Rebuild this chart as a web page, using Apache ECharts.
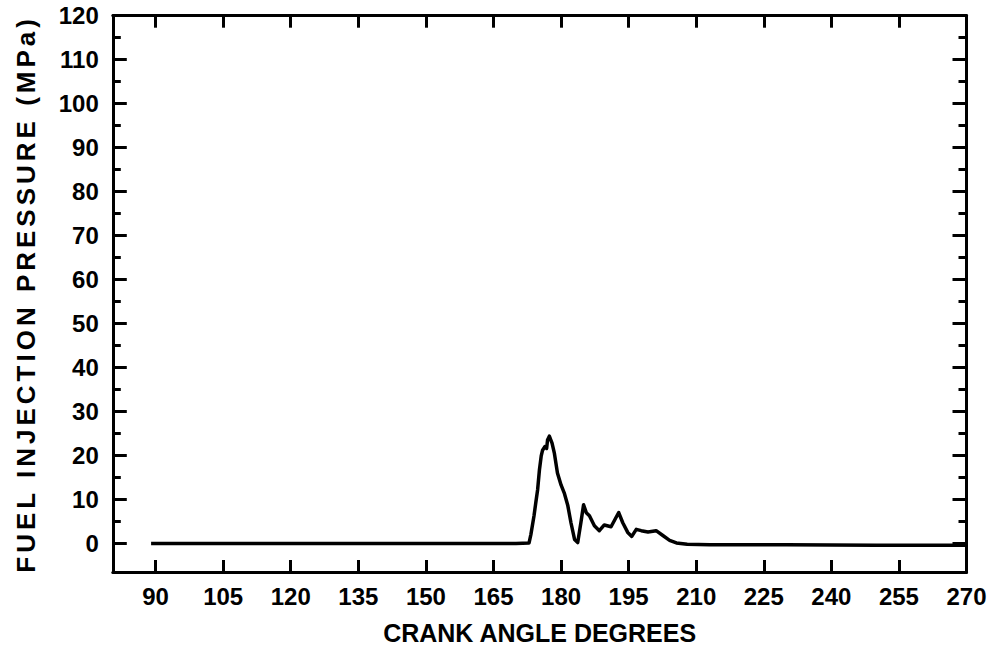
<!DOCTYPE html>
<html>
<head>
<meta charset="utf-8">
<script src="https://cdn.jsdelivr.net/npm/echarts@6/dist/echarts.min.js"></script>
<style>
  html, body { margin: 0; padding: 0; background: #fff; }
  #chart { width: 997px; height: 650px; }
</style>
</head>
<body>
<div id="chart"></div>
<script>
// Crank angle (degrees) and fuel injection pressure (MPa)
const crankAngle = [
  89, 100, 120, 140, 160, 170, 172.9, 173.3, 174.0, 174.4, 174.8, 175.2, 175.6,
  175.9, 176.4, 176.8, 177.0, 177.4, 177.7, 178.0, 178.5, 179.2, 180.0, 180.7,
  181.5, 182.2, 183.0, 183.7, 184.4, 185.0, 185.6, 186.3, 187.4, 188.5, 189.6,
  191.1, 192.2, 192.8, 193.7, 194.8, 195.7, 196.7, 197.8, 199.3, 201.1, 202.6,
  204.1, 205.6, 208, 213, 230, 250, 270
];
const pressure = [
  0, 0, 0, 0, 0, 0, 0.1, 2.0, 6.3, 9.3, 12.2, 16.7, 19.9,
  21.2, 22.0, 21.6, 23.5, 24.4, 23.6, 22.8, 20.6, 16.0, 13.3, 11.5,
  8.6, 4.7, 0.9, 0.2, 4.7, 8.8, 7.0, 6.3, 4.0, 2.9, 4.2,
  3.8, 5.9, 7.0, 4.7, 2.5, 1.6, 3.2, 2.9, 2.6, 2.9, 1.8,
  0.7, 0.1, -0.2, -0.3, -0.3, -0.4, -0.4
];

// Tick positions
const xTicks = [90, 105, 120, 135, 150, 165, 180, 195, 210, 225, 240, 255, 270];
const yMajorTicks = [0, 10, 20, 30, 40, 50, 60, 70, 80, 90, 100, 110, 120];
const yMinorTicks = [5, 15, 25, 35, 45, 55, 65, 75, 85, 95, 105, 115];

const X_MIN = 80.5, X_MAX = 270;
const Y_MIN = -6.5, Y_MAX = 120;

const FONT = '"Liberation Sans", Arial, Helvetica, sans-serif';
const INK = '#000';
const Y_TITLE = 'FUEL INJECTION PRESSURE (MPa)';

const points = crankAngle.map((a, i) => [a, pressure[i]]);

function xAxisDef(position, showLabels) {
  return {
    type: 'value', position, min: X_MIN, max: X_MAX,
    axisLine: { show: true, onZero: false, lineStyle: { color: INK, width: 3 } },
    axisTick: { show: true, inside: true, length: 12, customValues: xTicks,
                lineStyle: { color: INK, width: 3 } },
    axisLabel: { show: showLabels, customValues: xTicks, margin: 12,
                 color: INK, fontFamily: FONT, fontSize: 24, fontWeight: 'bold' },
    splitLine: { show: false }
  };
}

function yAxisDef(position, ticks, len, showLabels) {
  return {
    type: 'value', position, min: Y_MIN, max: Y_MAX,
    axisLine: { show: true, onZero: false, lineStyle: { color: INK, width: 3 } },
    axisTick: { show: true, inside: true, length: len, customValues: ticks,
                lineStyle: { color: INK, width: 3 } },
    axisLabel: { show: showLabels, customValues: ticks, margin: 14,
                 color: INK, fontFamily: FONT, fontSize: 24, fontWeight: 'bold' },
    splitLine: { show: false }
  };
}

const xBottom = xAxisDef('bottom', true);
xBottom.name = 'CRANK ANGLE DEGREES';
xBottom.nameLocation = 'middle';
xBottom.nameGap = 48;
xBottom.nameTextStyle = { color: INK, fontFamily: FONT, fontSize: 25, fontWeight: 'bold' };

const yLeft = yAxisDef('left', yMajorTicks, 14, true);
yLeft.name = Y_TITLE;
yLeft.nameLocation = 'middle';
yLeft.nameRotate = 90;
yLeft.nameGap = 74;
yLeft.nameTextStyle = { color: INK, fontFamily: FONT, fontSize: 26, fontWeight: 'bold' };

const chart = echarts.init(document.getElementById('chart'), null, { renderer: 'svg' });
chart.setOption({
  animation: false,
  backgroundColor: '#fff',
  grid: { left: 112.8, right: 30.5, top: 15.7, bottom: 75.7, containLabel: false },
  xAxis: [xBottom, xAxisDef('top', false)],
  yAxis: [
    yLeft,
    yAxisDef('left', yMinorTicks, 8, false),
    yAxisDef('right', yMajorTicks, 14, false),
    yAxisDef('right', yMinorTicks, 8, false)
  ],
  series: [{
    type: 'line',
    xAxisIndex: 0, yAxisIndex: 0,
    data: points,
    symbol: 'none',
    lineStyle: { color: INK, width: 3.5, join: 'round' },
    z: 5
  }]
});

// Spread the letters of the vertical axis title
function spaceYTitle() {
  document.querySelectorAll('#chart svg text').forEach(t => {
    if (t.textContent === Y_TITLE) t.setAttribute('letter-spacing', '4');
  });
}
spaceYTitle();
chart.on('finished', spaceYTitle);
</script>
</body>
</html>
